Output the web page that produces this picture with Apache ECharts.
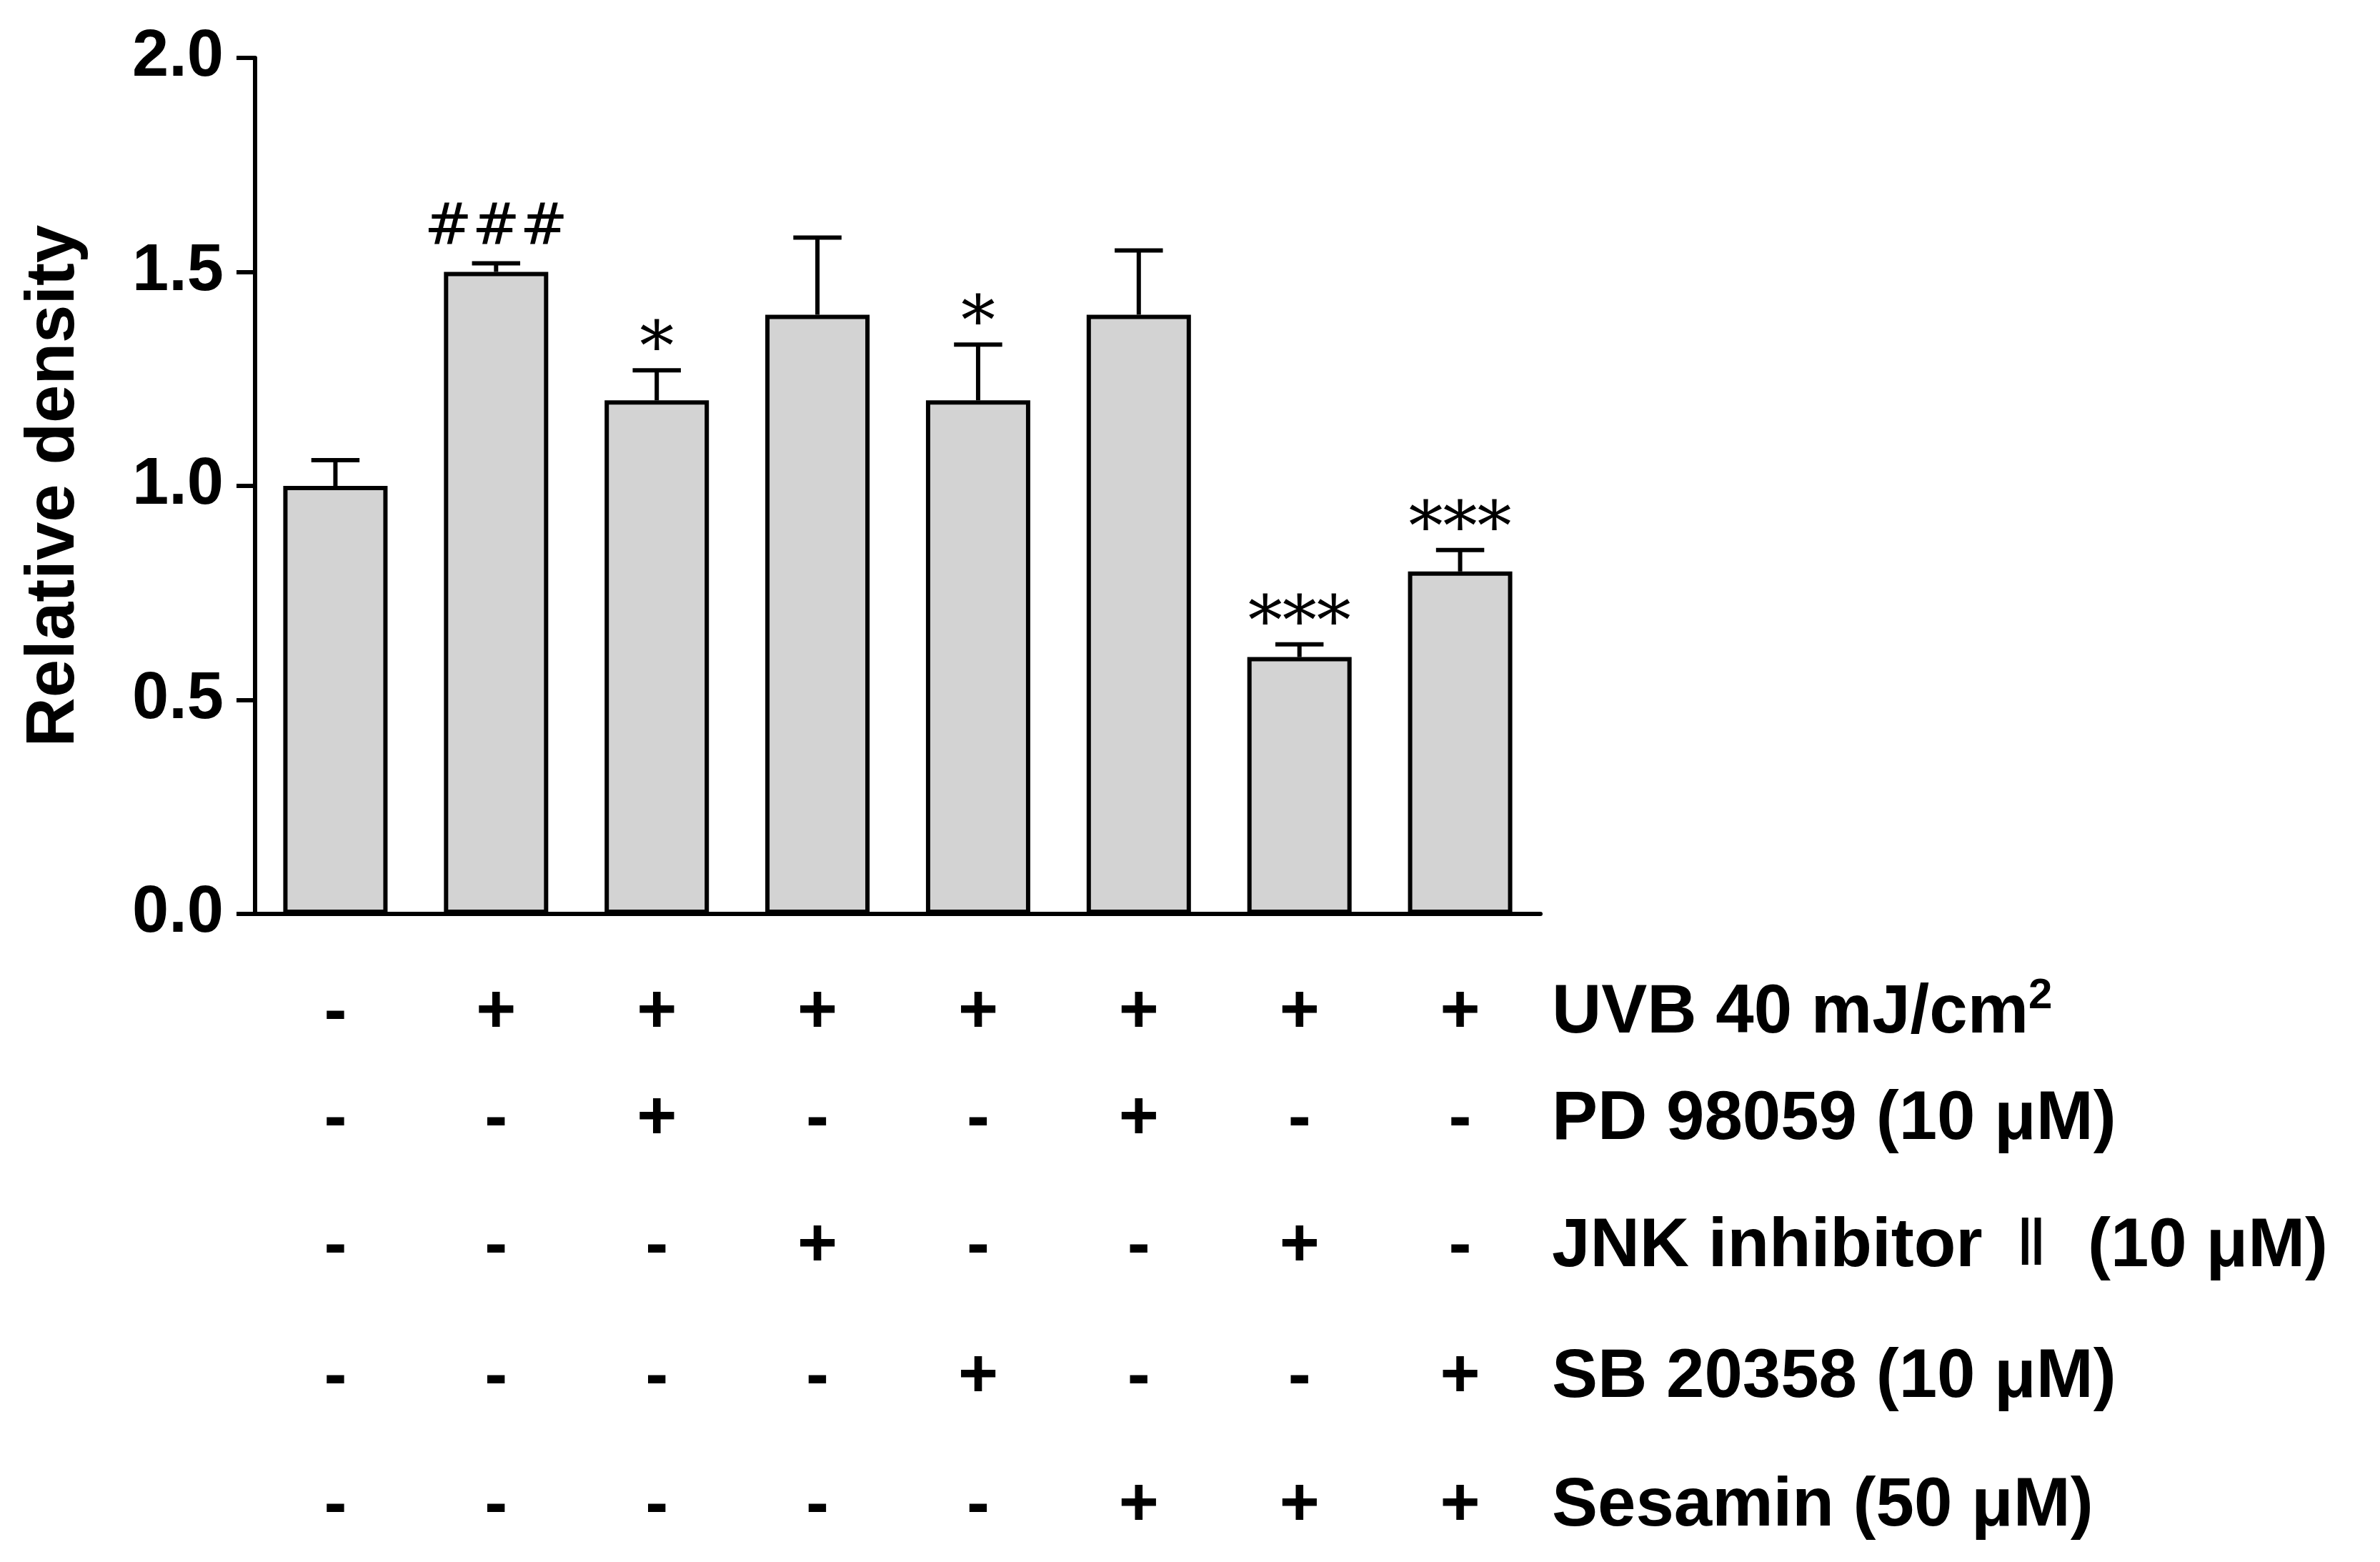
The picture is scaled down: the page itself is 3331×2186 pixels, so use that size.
<!DOCTYPE html>
<html><head><meta charset="utf-8">
<script src="https://cdn.jsdelivr.net/npm/echarts@6/dist/echarts.min.js"></script>
<style>html,body{margin:0;padding:0;background:#fff}#c{width:3331px;height:2186px}</style>
</head><body><div id="c"></div>
<script>
const categories = ['G1','G2','G3','G4','G5','G6','G7','G8'];
const values = [1.0, 1.5, 1.2, 1.4, 1.2, 1.4, 0.6, 0.8];
const errors = [0.06, 0.02, 0.07, 0.18, 0.13, 0.15, 0.03, 0.05];
const marks = ['', '###', '*', '', '*', '', '***', '***'];
const yTicks = [0, 0.5, 1.0, 1.5, 2.0];
const rowNames = ['UVB 40 mJ/cm{sup|2}', 'PD 98059 (10 μM)', 'JNK inhibitor {rom|Ⅱ} (10 μM)', 'SB 20358 (10 μM)', 'Sesamin (50 μM)'];
const rowSigns = [
  ['-','+','+','+','+','+','+','+'],
  ['-','-','+','-','-','+','-','-'],
  ['-','-','-','+','-','-','+','-'],
  ['-','-','-','-','+','-','-','+'],
  ['-','-','-','-','-','+','+','+']
];
const rowOffsets = [140, 289, 467, 650, 830];

const font = 'Liberation Sans, Arial, sans-serif';
const xAxes = [{
  type:'category', data:categories, gridIndex:0,
  axisLine:{lineStyle:{color:'#000',width:6}}, axisTick:{show:false}, axisLabel:{show:false}
}];
rowSigns.forEach((signs,i)=>{
  xAxes.push({
    type:'category', data:signs, gridIndex:0, position:'bottom', offset:rowOffsets[i],
    axisLine:{show:false}, axisTick:{show:false},
    axisLabel:{interval:0, margin:0, verticalAlign:'middle', color:'#000', fontFamily:font, fontWeight:'bold', fontSize:96},
    name:rowNames[i], nameLocation:'end', nameGap:16,
    nameTextStyle:{color:'#000', fontFamily:font, fontWeight:'bold', fontSize:96, align:'left', verticalAlign:'middle',
      rich:{sup:{fontSize:60, fontWeight:'bold', fontFamily:font, verticalAlign:'bottom', padding:[0,0,50,0]},
            rom:{fontSize:90, fontFamily:'"Liberation Serif", serif', fontWeight:'normal', padding:[0,30,0,20]}}}
  });
});

const chart = echarts.init(document.getElementById('c'));
chart.setOption({
  animation:false,
  grid:{left:357, right:1175, top:81, bottom:907},
  xAxis:xAxes,
  yAxis:{type:'value', min:0, max:2, interval:0.5,
    axisLine:{show:true, lineStyle:{color:'#000',width:6}},
    axisTick:{show:true, length:26, lineStyle:{color:'#000',width:6}},
    splitLine:{show:false},
    axisLabel:{color:'#000', fontFamily:font, fontWeight:'bold', fontSize:92, margin:44, formatter:v=>v.toFixed(1)},
    name:'Relative density', nameLocation:'middle', nameGap:232,
    nameTextStyle:{color:'#000', fontFamily:font, fontWeight:'bold', fontSize:96}
  },
  series:[
    {type:'custom', xAxisIndex:0, z:1,
      data:values.map((v,i)=>[i, v, v+errors[i]]),
      renderItem:(p,api)=>{
        const top = api.coord([api.value(0), api.value(2)]);
        const mid = api.coord([api.value(0), api.value(1)]);
        const hw = api.size([1,0])[0]*0.15;
        return {type:'group', children:[
          {type:'line', shape:{x1:top[0],y1:mid[1],x2:top[0],y2:top[1]}, style:{stroke:'#000',lineWidth:6}},
          {type:'line', shape:{x1:top[0]-hw,y1:top[1],x2:top[0]+hw,y2:top[1]}, style:{stroke:'#000',lineWidth:6}}
        ]};
      }},
    {type:'bar', xAxisIndex:0, data:values, barWidth:146, z:2,
      itemStyle:{color:'#d3d3d3', borderColor:'#000', borderWidth:6}},
    {type:'custom', xAxisIndex:0, z:3,
      data:values.map((v,i)=>[i, v+errors[i]]),
      renderItem:(p,api)=>{
        const pt = api.coord([api.value(0), api.value(1)]);
        const m = marks[p.dataIndex];
        const star = m.indexOf('*')>=0;
        return {type:'text', x:pt[0], y:pt[1]+(star?22:-8), style:{text:m, align:'center', verticalAlign:'bottom',
          font:(star?'96px':'80px')+' "DejaVu Serif", serif', fill:'#000'}};
      }}
  ]
});
</script></body></html>
